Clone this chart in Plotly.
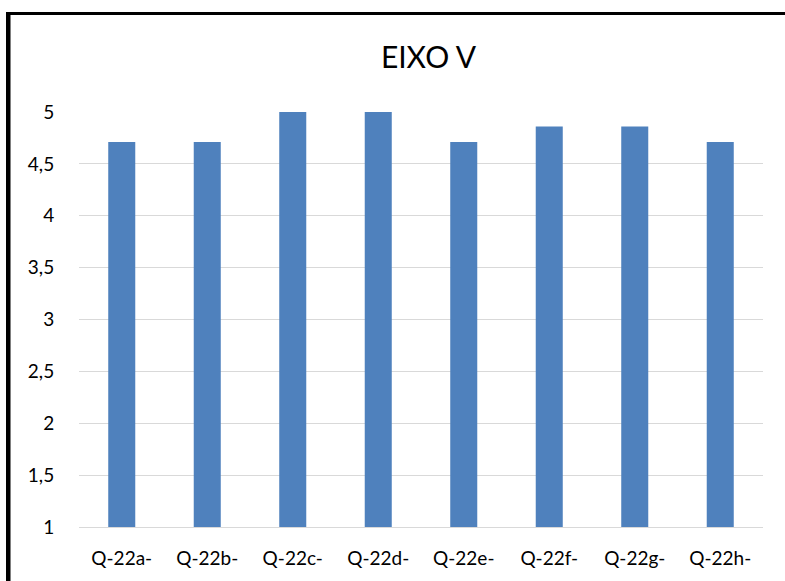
import plotly.graph_objects as go

categories = ["Q-22a-", "Q-22b-", "Q-22c-", "Q-22d-", "Q-22e-", "Q-22f-", "Q-22g-", "Q-22h-"]
values = [4.71, 4.71, 5.0, 5.0, 4.71, 4.86, 4.86, 4.71]
tick_vals = [1, 1.5, 2, 2.5, 3, 3.5, 4, 4.5, 5]
tick_text = ["1", "1,5", "2", "2,5", "3", "3,5", "4", "4,5", "5"]

W, H = 785, 581
ML, MR, MT, MB = 79, 22, 112, 54
PW, PH = W - ML - MR, H - MT - MB


def px_x(x):
    return (x - ML) / PW


def px_y(y):
    return (H - MB - y) / PH


fig = go.Figure(
    go.Bar(
        x=categories,
        y=values,
        marker=dict(color="#4f81bd", line=dict(width=0)),
        width=0.316,
    )
)

# frame: black border along top and left edges
shapes = [
    dict(type="rect", xref="paper", yref="paper",
         x0=px_x(6), x1=px_x(W + 5), y0=px_y(15), y1=px_y(12),
         fillcolor="black", line=dict(width=0), layer="above"),
    dict(type="rect", xref="paper", yref="paper",
         x0=px_x(6), x1=px_x(10.5), y0=px_y(H + 5), y1=px_y(12),
         fillcolor="black", line=dict(width=0), layer="above"),
]

fig.update_layout(
    width=W,
    height=H,
    margin=dict(l=ML, r=MR, t=MT, b=MB, autoexpand=False),
    paper_bgcolor="white",
    plot_bgcolor="white",
    font=dict(family="Lato", size=20, color="#000000"),
    title=dict(text="EIXO V", x=0.511, xref="paper", xanchor="center",
               y=1 - 57 / H, yanchor="middle", font=dict(family="Lato", size=30, color="#000000")),
    showlegend=False,
    shapes=shapes,
    bargap=0.684,
)
fig.update_xaxes(
    automargin=False,
    showgrid=False,
    showline=True,
    linecolor="#d9d9d9",
    linewidth=1,
    ticks="outside",
    ticklen=14,
    tickcolor="rgba(0,0,0,0)",
    tickfont=dict(family="Lato", size=19),
)
fig.update_yaxes(
    automargin=False,
    range=[1, 5],
    tickvals=tick_vals,
    ticktext=tick_text,
    showgrid=True,
    gridcolor="#d9d9d9",
    gridwidth=1,
    zeroline=False,
    ticks="outside",
    ticklen=20,
    tickcolor="rgba(0,0,0,0)",
    tickfont=dict(family="Lato", size=19),
)

fig.write_html("out.html")
